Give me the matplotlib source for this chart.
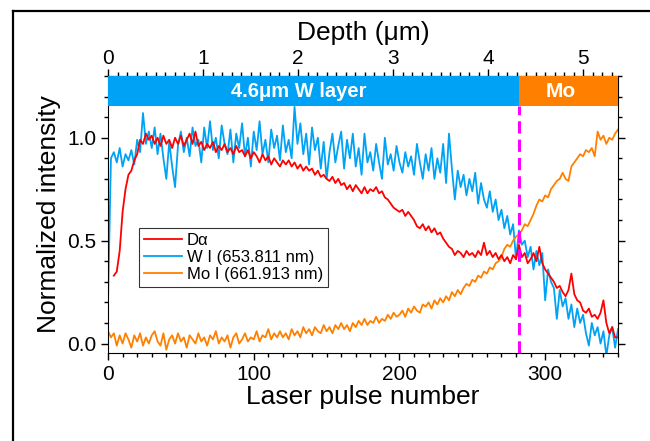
import numpy as np
import matplotlib
matplotlib.use('Agg')
import matplotlib.pyplot as plt
from matplotlib.lines import Line2D

plt.rcParams['font.family'] = ['Liberation Sans', 'DejaVu Sans']

# W I (653.811 nm), one value every 2 pulses from 0 to 350
w_vals = [0.21, 0.90, 0.93, 0.88, 0.95, 0.86, 0.92, 0.89, 0.94, 0.87,
          0.99, 0.93, 1.12, 0.97, 1.03, 0.95, 1.05, 0.92, 1.02, 0.90,
          0.80, 0.98, 0.86, 0.76, 0.96, 1.03, 0.93, 1.00, 0.91, 1.05,
          0.96, 0.99, 0.88, 1.05, 0.95, 1.08, 0.94, 1.00, 0.90, 1.06,
          0.97, 0.92, 1.04, 0.88, 1.02, 0.95, 1.07, 0.91, 1.00, 0.86,
          1.03, 0.94, 1.08, 0.92, 0.99, 0.88, 1.04, 0.95, 1.01, 0.89,
          1.06, 0.93, 0.99, 0.90, 1.15, 0.97, 1.07, 0.92, 1.02, 0.87,
          1.05, 0.94, 1.00, 0.85, 0.98, 0.80, 0.93, 1.02, 0.88, 0.96,
          1.03, 0.85, 0.99, 0.90, 1.02, 0.86, 0.95, 0.82, 1.02, 0.88,
          0.93, 0.84, 0.97, 0.88, 0.80, 1.00, 0.87, 0.92, 0.84, 0.96,
          0.88, 0.83, 0.93, 0.86, 0.91, 0.82, 0.97, 0.88, 0.80, 0.92,
          0.84, 0.95, 0.80, 0.90, 0.83, 0.97, 0.78, 1.02, 0.85, 0.70,
          0.84, 0.76, 0.82, 0.72, 0.80, 0.74, 0.83, 0.68, 0.78, 0.70,
          0.66, 0.74, 0.64, 0.70, 0.60, 0.65, 0.56, 0.62, 0.53, 0.58,
          0.41, 0.55, 0.48, 0.50, 0.42, 0.47, 0.36, 0.45, 0.38, 0.44,
          0.21, 0.36, 0.30, 0.27, 0.12, 0.26, 0.18, 0.22, 0.12, 0.19,
          0.08, 0.17, 0.10, 0.14, 0.05, -0.01, 0.10, 0.04, 0.08, 0.00,
          0.06, -0.06, 0.04, 0.08, -0.02, 0.07]

# D alpha, every 2 pulses from 4 to 350
d_vals = [0.33, 0.35, 0.45, 0.64, 0.75, 0.82, 0.84, 0.89, 0.92, 0.99,
          0.97, 1.02, 0.99, 1.01, 0.97, 1.00, 0.96, 1.01, 0.97, 0.99,
          0.95, 1.00, 0.97, 1.01, 0.96, 0.99, 1.02, 0.97, 1.03, 0.96,
          0.98, 0.94, 0.97, 0.95, 0.98, 0.93, 0.96, 0.94, 0.97, 0.93,
          0.95, 0.92, 0.96, 0.93, 0.94, 0.91, 0.94, 0.90, 0.93, 0.91,
          0.88, 0.92, 0.89, 0.91, 0.87, 0.90, 0.88, 0.86, 0.89, 0.87,
          0.89, 0.86, 0.88, 0.85, 0.87, 0.84, 0.86, 0.84, 0.85, 0.82,
          0.84, 0.81, 0.82, 0.80, 0.79, 0.81, 0.78, 0.80, 0.77, 0.78,
          0.75, 0.77, 0.74, 0.77, 0.75, 0.73, 0.76, 0.73, 0.75, 0.74,
          0.76, 0.73, 0.74, 0.71, 0.70, 0.68, 0.66, 0.65, 0.64, 0.65,
          0.62, 0.64, 0.62, 0.60, 0.57, 0.56, 0.58, 0.55, 0.57, 0.54,
          0.56, 0.53, 0.54, 0.51, 0.49, 0.47, 0.46, 0.43, 0.45, 0.44,
          0.42, 0.45, 0.43, 0.44, 0.42, 0.45, 0.43, 0.49, 0.43, 0.45,
          0.42, 0.44, 0.41, 0.43, 0.40, 0.42, 0.39, 0.43, 0.41, 0.48,
          0.42, 0.44, 0.39, 0.41, 0.44, 0.40, 0.47, 0.39, 0.36, 0.34,
          0.32, 0.30, 0.27, 0.28, 0.25, 0.23, 0.26, 0.34, 0.24, 0.21,
          0.20, 0.16, 0.15, 0.17, 0.13, 0.14, 0.12, 0.15, 0.21, 0.10,
          0.05, 0.08, 0.03, 0.03]

# Mo I (661.913 nm), every 2 pulses from 0 to 350
mo_vals = [0.06, 0.03, 0.05, -0.01, 0.04, 0.00, 0.05, 0.02, -0.02, 0.04,
           0.01, 0.05, -0.01, 0.03, 0.00, 0.04, 0.06, 0.01, -0.01, 0.05,
           -0.03, 0.02, 0.04, 0.00, 0.05, 0.01, 0.03, -0.02, 0.04, 0.02,
           0.00, 0.05, 0.01, 0.03, -0.01, 0.04, 0.02, 0.06, 0.00, 0.03,
           0.01, 0.04, -0.02, 0.03, 0.05, 0.00, 0.02, 0.05, 0.01, 0.03,
           0.02, 0.06, 0.01, 0.04, 0.03, 0.07, 0.02, 0.05, 0.03, 0.06,
           0.03, 0.05, 0.02, 0.07, 0.04, 0.06, 0.03, 0.08, 0.05, 0.07,
           0.04, 0.08, 0.06, 0.05, 0.09, 0.06, 0.08, 0.05, 0.09, 0.07,
           0.10, 0.07, 0.09, 0.06, 0.10, 0.08, 0.11, 0.09, 0.12, 0.09,
           0.11, 0.10, 0.13, 0.10, 0.12, 0.11, 0.14, 0.12, 0.15, 0.13,
           0.14, 0.16, 0.13, 0.17, 0.15, 0.18, 0.16, 0.15, 0.19, 0.18,
           0.20, 0.17, 0.21, 0.19, 0.22, 0.20, 0.23, 0.21, 0.25, 0.23,
           0.26, 0.24, 0.27, 0.29, 0.28, 0.31, 0.30, 0.33, 0.32, 0.35,
           0.34, 0.37, 0.36, 0.39, 0.40, 0.42, 0.46, 0.48, 0.47, 0.50,
           0.52, 0.53, 0.55, 0.58, 0.57, 0.60, 0.63, 0.67, 0.70, 0.69,
           0.72, 0.71, 0.75, 0.77, 0.79, 0.80, 0.83, 0.80, 0.79, 0.86,
           0.88, 0.90, 0.92, 0.91, 0.94, 0.93, 0.95, 0.91, 1.03, 0.99,
           1.01, 0.97, 1.00, 0.99, 1.02, 1.04]

w_pulse = np.arange(len(w_vals)) * 2
d_pulse = 4 + np.arange(len(d_vals)) * 2
mo_pulse = np.arange(len(mo_vals)) * 2

boundary = 282          # W / Mo interface (pulse number)
um_per_pulse = 5 / 326  # depth scale of the top axis

c_red = '#FF0000'
c_blue = '#00A2F5'
c_orange = '#FF8000'

fig = plt.figure(figsize=(6.5, 4.41), dpi=100)
ax = fig.add_axes([0.1662, 0.1995, 0.7846, 0.6282])

ax.plot(d_pulse, d_vals, color=c_red, lw=1.3, label='D\u03b1', zorder=3)
ax.plot(w_pulse, w_vals, color=c_blue, lw=1.3, label='W I (653.811 nm)', zorder=2)
ax.plot(mo_pulse, mo_vals, color=c_orange, lw=1.3, label='Mo I (661.913 nm)', zorder=2)

ymin, ymax = -0.046, 1.30
band_bottom = 1.155
ax.set_xlim(0, 350)
ax.set_ylim(ymin, ymax)
frac = (band_bottom - ymin) / (ymax - ymin)

# layer band at the top
ax.axvspan(0, boundary, ymin=frac, ymax=1, color=c_blue, lw=0, zorder=4)
ax.axvspan(boundary, 350, ymin=frac, ymax=1, color=c_orange, lw=0, zorder=4)
ax.text(131, 1.227, '4.6\u03bcm W layer', color='white', fontsize=14.5,
        fontweight='bold', ha='center', va='center', zorder=5)
ax.text(311, 1.227, 'Mo', color='white', fontsize=15,
        fontweight='bold', ha='center', va='center', zorder=5)

ax.axvline(boundary, ymax=frac, color='#FF00FF', lw=2.2, ls=(0, (4, 2)), zorder=5)

ax.set_xticks([0, 100, 200, 300])
ax.set_xticks(np.arange(0, 351, 10), minor=True)
ax.set_yticks([0.0, 0.5, 1.0])
ax.set_yticks(np.arange(0, 1.31, 0.1), minor=True)
ax.set_yticklabels(['0.0', '0.5', '1.0'])
ax.tick_params(which='both', direction='out', right=True, labelsize=15, width=1)
ax.tick_params(which='major', length=5)
ax.tick_params(which='minor', length=3)
ax.set_xlabel('Laser pulse number', fontsize=19, labelpad=1)
ax.set_ylabel('Normalized intensity', fontsize=19, labelpad=4)

top = ax.secondary_xaxis('top', functions=(lambda p: p * um_per_pulse,
                                           lambda d: d / um_per_pulse))
top.set_xticks([0, 1, 2, 3, 4, 5])
top.set_xticks(np.arange(0, 5.4, 0.1), minor=True)
top.tick_params(which='both', direction='out', labelsize=15, width=1, pad=1)
top.tick_params(which='major', length=5)
top.tick_params(which='minor', length=3)
top.set_xlabel('Depth (\u03bcm)', fontsize=19, labelpad=6)

leg = ax.legend(loc='lower left', bbox_to_anchor=(0.06, 0.24), fontsize=12,
                frameon=True, fancybox=False, edgecolor='black',
                handlelength=2.3, handletextpad=0.3, labelspacing=0.12,
                borderpad=0.3, borderaxespad=0)
leg.get_frame().set_linewidth(0.8)

# outer frame lines (top and left)
fig.add_artist(Line2D([0.02, 1.0], [0.975, 0.975], color='black', lw=1.6))
fig.add_artist(Line2D([0.02, 0.02], [0.0, 0.975], color='black', lw=1.6))

fig.savefig('out.png', dpi=100)
